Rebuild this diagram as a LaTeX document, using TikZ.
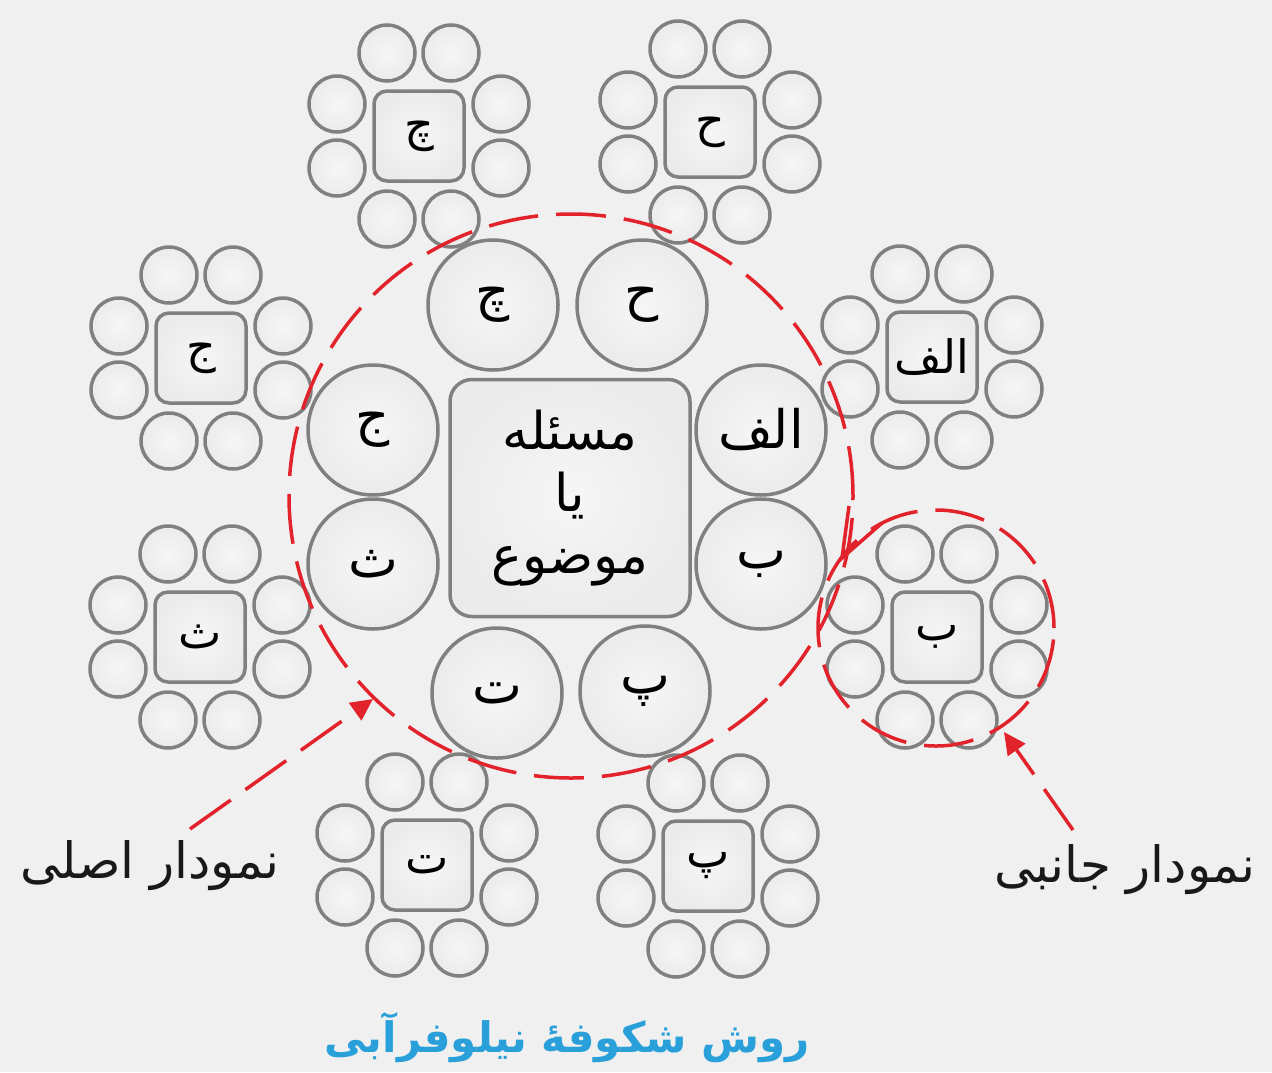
\documentclass[tikz,border=0pt]{standalone}
\usepackage{fontspec}
\usetikzlibrary{arrows.meta,calc}
\newfontfamily\fa[Script=Arabic]{DejaVu Sans}
\TeXXeTstate=1
\definecolor{bg}{HTML}{F0F0F0}
\definecolor{ring}{HTML}{808080}
\definecolor{lotusred}{HTML}{E3232B}
\definecolor{lotusblue}{HTML}{2AA0DA}
\newcommand\rtl[1]{\beginR #1\endR}
% one side diagram: a rounded square with eight petals around it
\newcommand\lotuscluster[3]{%
  \node[petalbox] (#2) at (#1) {\rtl{#3}};
  \foreach \dx/\dy [count=\i] in {-32/-83,32/-83,82/-32,82/32,32/83,-32/83,-82/32,-82/-32}
    \node[petal] (#2-\i) at ($(#2.center)+(\dx,\dy)$) {};
}
\begin{document}
\begin{tikzpicture}[x=1pt,y=-1pt,
  soft/.style={inner color=white!40!bg, outer color=bg!98!black},
  petal/.style={circle,draw=ring,line width=3.5pt,minimum size=56pt,inner sep=0pt,soft},
  petalbox/.style={rectangle,rounded corners=13pt,draw=ring,line width=3.5pt,
    minimum size=90pt,inner sep=0pt,soft,font=\fa\fontsize{46}{52}\selectfont},
  mainpetal/.style={circle,draw=ring,line width=3.5pt,minimum size=130pt,inner sep=0pt,soft,
    font=\fa\fontsize{53}{60}\selectfont},
  corebox/.style={rectangle,rounded corners=22pt,draw=ring,line width=3.5pt,
    minimum width=240pt,minimum height=237pt,inner sep=0pt,soft,align=center,
    font=\fa\fontsize{52}{62}\selectfont},
  reddash/.style={draw=lotusred,line width=3.5pt,dash pattern=on 50pt off 18pt},
  pointer/.style={reddash,-{Triangle[length=22pt,width=21pt]}},
  caption/.style={font=\fa\fontsize{50}{56}\selectfont,text=black!90},
]
\fill[bg] (0,0) rectangle (1272,1072);
\useasboundingbox (0,0) rectangle (1272,1072);

% side diagrams
\lotuscluster{419,136}{sideche}{چ}
\lotuscluster{710,132}{sidehe}{ح}
\lotuscluster{932,357}{sidealef}{الف}
\lotuscluster{937,637}{sidebe}{ب}
\lotuscluster{708,866}{sidepe}{پ}
\lotuscluster{427,865}{sidete}{ت}
\lotuscluster{200,637}{sidese}{ث}
\lotuscluster{201,358}{sidejim}{ج}

% main diagram
\node[corebox] (core) at (570,498) {\rtl{مسئله}\\\rtl{یا}\\\rtl{موضوع}};
\node[mainpetal] (mhe)   at (642,305) {\rtl{ح}};
\node[mainpetal] (mche)  at (493,305) {\rtl{چ}};
\node[mainpetal] (malef) at (761,430) {\rtl{الف}};
\node[mainpetal] (mbe)   at (761,564) {\rtl{ب}};
\node[mainpetal] (mpe)   at (645,691) {\rtl{پ}};
\node[mainpetal] (mte)   at (497,693) {\rtl{ت}};
\node[mainpetal] (mjim)  at (373,430) {\rtl{ج}};
\node[mainpetal] (mse)   at (373,564) {\rtl{ث}};

% dashed outlines of the main and one side diagram
\node[circle,reddash,minimum size=564pt,inner sep=0pt] (mainring) at (571,496) {};
\node[circle,reddash,minimum size=236pt,inner sep=0pt] (sidering) at (936,628) {};
\coordinate (hookA) at (849,506);
\coordinate (hookTip) at (842,558);
\coordinate (hookB) at (882,523);
\draw[lotusred,line width=3.5pt,line join=miter] (hookA) -- (hookTip) -- (hookB);

% captions and their pointers
\node[caption] (mainlabel) at (150,866) {\rtl{نمودار اصلی}};
\node[caption] (sidelabel) at (1125,870) {\rtl{نمودار جانبی}};
\coordinate (mainTail) at (190,829);
\coordinate (mainTip) at (373,699);
\coordinate (sideTail) at (1073,830);
\coordinate (sideTip) at (1004,732);
\draw[pointer] (mainTail) -- (mainTip);
\draw[pointer] (sideTail) -- (sideTip);

\node[font=\fa\bfseries\fontsize{42}{50}\selectfont,text=lotusblue] (title) at (567,1038)
  {\rtl{روش شکوفهٔ نیلوفرآبی}};
\end{tikzpicture}
\end{document}
